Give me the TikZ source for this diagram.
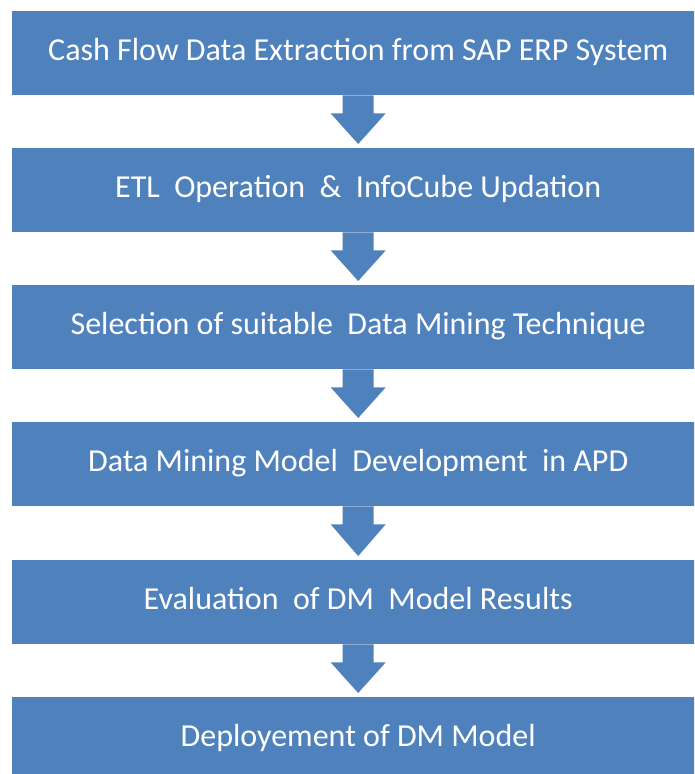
\documentclass[tikz,border=0pt]{standalone}
\usepackage{fontspec}
\setmainfont{Carlito}
\usetikzlibrary{calc}
\definecolor{boxblue}{HTML}{4F81BD}
\tikzset{
  stepbox/.style={fill=boxblue, draw=none, minimum width=692pt, minimum height=84pt,
    inner sep=0pt, text=white, font=\fontsize{32}{36}\selectfont, anchor=north west},
  flowarrow/.style={fill=boxblue, draw=none}
}
\newcommand{\downarrowshape}[2]{%
  \fill[flowarrow] ($(#1.south)+(-15.5pt,0)$) -- ($(#1.south)+(15.5pt,0)$)
    -- ($(#1.south)+(15.5pt,-18pt)$) -- ($(#1.south)+(27.5pt,-18pt)$)
    -- ($(#2.north)+(0,4pt)$)
    -- ($(#1.south)+(-27.5pt,-18pt)$) -- ($(#1.south)+(-15.5pt,-18pt)$) -- cycle;}
\begin{document}
\begin{tikzpicture}[x=1pt,y=-1pt]
\useasboundingbox (0,0) rectangle (694,774);
\begin{scope}
\clip (0,0) rectangle (694,774);
\node[stepbox] (b1) at (12,11)  {\strut Cash Flow Data Extraction from SAP ERP System};
\node[stepbox] (b2) at (12,148) {\strut ETL\ \ Operation\ \ \&\ \ InfoCube Updation};
\node[stepbox] (b3) at (12,285) {\strut Selection of suitable\ \ Data Mining Technique};
\node[stepbox] (b4) at (12,422) {\strut Data Mining Model\ \ Development\ \ in APD};
\node[stepbox] (b5) at (12,560) {\strut Evaluation\ \ of DM\ \ Model Results};
\node[stepbox] (b6) at (12,697) {\strut Deployement of DM Model};
\downarrowshape{b1}{b2}
\downarrowshape{b2}{b3}
\downarrowshape{b3}{b4}
\downarrowshape{b4}{b5}
\downarrowshape{b5}{b6}
\end{scope}
\end{tikzpicture}
\end{document}
